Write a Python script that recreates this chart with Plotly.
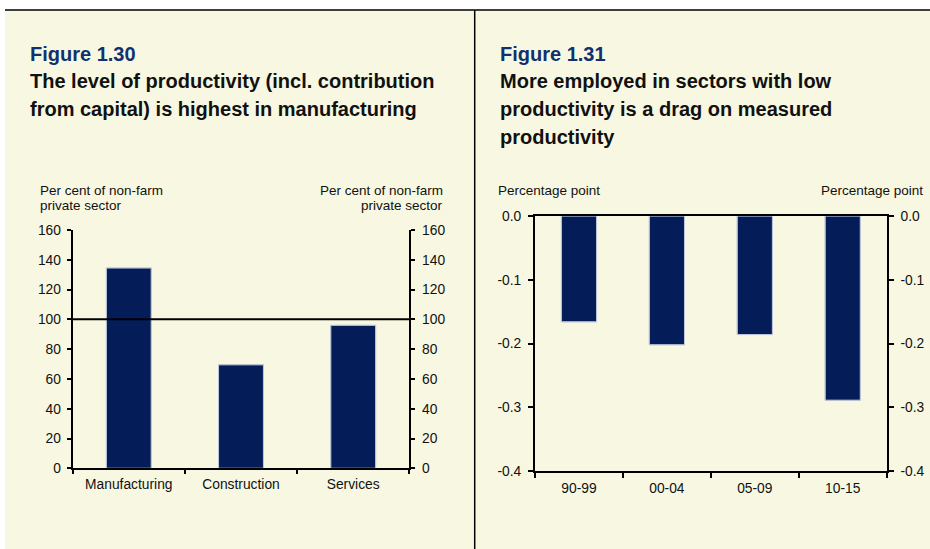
import plotly.graph_objects as go

W, H = 930, 549

# ---- data ----
sectors = ["Manufacturing", "Construction", "Services"]
productivity_level = [134.5, 69.5, 96.0]
reference_level = 100

periods = ["90-99", "00-04", "05-09", "10-15"]
drag_pp = [-0.166, -0.202, -0.186, -0.289]

left_ticks = [0, 20, 40, 60, 80, 100, 120, 140, 160]
right_ticks = [-0.4, -0.3, -0.2, -0.1, 0.0]
right_ticklabels = ["-0.4", "-0.3", "-0.2", "-0.1", "0.0"]

NAVY = "#041c58"
TITLE_NAVY = "#12306f"
CREAM = "#f8f8e2"
TXT = "#111111"
FONT = "Liberation Sans, Arial, sans-serif"


def px(x):
    return x / W


def py(y):
    return 1 - y / H


fig = go.Figure()

fig.add_trace(go.Bar(x=sectors, y=productivity_level, xaxis="x", yaxis="y",
                     marker=dict(color=NAVY, line=dict(color="#9aa2bd", width=1)),
                     width=0.4, showlegend=False, hoverinfo="x+y"))
fig.add_trace(go.Bar(x=sectors, y=productivity_level, xaxis="x", yaxis="y2",
                     marker=dict(color="rgba(0,0,0,0)"), width=0.4,
                     showlegend=False, hoverinfo="skip"))
fig.add_trace(go.Bar(x=periods, y=drag_pp, xaxis="x2", yaxis="y3",
                     marker=dict(color=NAVY, line=dict(color="#9aa2bd", width=1)),
                     width=0.4, showlegend=False, hoverinfo="x+y"))
fig.add_trace(go.Bar(x=periods, y=drag_pp, xaxis="x2", yaxis="y4",
                     marker=dict(color="rgba(0,0,0,0)"), width=0.4,
                     showlegend=False, hoverinfo="skip"))

tickfont = dict(family=FONT, size=13.8, color=TXT)

L_x0, L_x1, L_y0, L_y1 = 72.7, 409.3, 230, 468.3
R_x0, R_x1, R_y0, R_y1 = 535, 886.7, 216, 471

common_y = dict(showline=True, linecolor="black", linewidth=2, showgrid=False,
                zeroline=False, ticks="outside", tickcolor="black", tickwidth=1.5,
                tickfont=tickfont, fixedrange=True, automargin=False)
common_x = dict(type="category", showline=True, linecolor="black", linewidth=2,
                showgrid=False, ticks="outside", tickson="boundaries",
                tickcolor="black", tickwidth=1.5, tickfont=tickfont, zeroline=False,
                fixedrange=True, automargin=False)

fig.update_layout(
    width=W, height=H,
    margin=dict(l=0, r=0, t=0, b=0, pad=0),
    autosize=False,
    paper_bgcolor="white",
    plot_bgcolor="rgba(0,0,0,0)",
    bargap=0.6,
    font=dict(family=FONT, color=TXT),
    xaxis=dict(domain=[px(L_x0), px(L_x1)], anchor="y", ticklen=4,
               ticklabelstandoff=2, **common_x),
    yaxis=dict(domain=[py(L_y1), py(L_y0)], anchor="x", range=[0, 160],
               tickvals=left_ticks, ticklen=4, ticklabelstandoff=3, **common_y),
    yaxis2=dict(overlaying="y", side="right", anchor="x", range=[0, 160],
                tickvals=left_ticks, ticklen=4, ticklabelstandoff=4, **common_y),
    xaxis2=dict(domain=[px(R_x0), px(R_x1)], anchor="y3", mirror=True, ticklen=5,
                ticklabelstandoff=3, **common_x),
    yaxis3=dict(domain=[py(R_y1), py(R_y0)], anchor="x2", range=[-0.4, 0],
                tickvals=right_ticks, ticktext=right_ticklabels, ticklen=5,
                ticklabelstandoff=4, **common_y),
    yaxis4=dict(overlaying="y3", side="right", anchor="x2", range=[-0.4, 0],
                tickvals=right_ticks, ticktext=right_ticklabels, ticklen=5,
                ticklabelstandoff=4, **common_y),
)

shapes = [
    # cream panel background
    dict(type="rect", xref="paper", yref="paper", x0=px(5), x1=1, y0=0, y1=py(10),
         fillcolor=CREAM, line=dict(width=0), layer="below"),
    # top rule
    dict(type="line", xref="paper", yref="paper", x0=px(5), x1=1, y0=py(10), y1=py(10),
         line=dict(color="black", width=1.5), layer="above"),
    # vertical divider
    dict(type="line", xref="paper", yref="paper", x0=px(474.7), x1=px(474.7),
         y0=0, y1=py(10), line=dict(color="black", width=1.5), layer="above"),
    # reference line at 100
    dict(type="line", xref="x domain", yref="y", x0=0, x1=1,
         y0=reference_level, y1=reference_level,
         line=dict(color="black", width=2), layer="above"),
]
fig.update_layout(shapes=shapes)

ann = []


def text(x, y, s, size, color=TXT, bold=False, xanchor="left"):
    if bold:
        s = "<b>" + s + "</b>"
    ann.append(dict(xref="paper", yref="paper", x=px(x), y=py(y), text=s,
                    showarrow=False, xanchor=xanchor, yanchor="middle",
                    font=dict(family=FONT, size=size, color=color)))


# left panel titles
text(28, 54, "Figure 1.30", 20, TITLE_NAVY, True)
text(28, 81, "The level of productivity (incl. contribution", 20, "#111111", True)
text(28, 109, "from capital) is highest in manufacturing", 20, "#111111", True)
# right panel titles
text(497.7, 54, "Figure 1.31", 20, TITLE_NAVY, True)
text(497.7, 81, "More employed in sectors with low", 20, "#111111", True)
text(497.7, 109, "productivity is a drag on measured", 20, "#111111", True)
text(497.7, 137, "productivity", 20, "#111111", True)

# axis unit labels
text(37.7, 190.5, "Per cent of non-farm", 13.5)
text(37.7, 205.5, "private sector", 13.5)
text(445, 190.5, "Per cent of non-farm", 13.5, xanchor="right")
text(445, 205.5, "private sector", 13.5, xanchor="right")
text(495.7, 190.5, "Percentage point", 13.5)
text(925, 190.5, "Percentage point", 13.5, xanchor="right")

fig.update_layout(annotations=ann)

post = (
    "var h=document.documentElement,b=document.body;"
    "h.style.margin='0';h.style.padding='0';h.style.overflow='hidden';"
    "h.style.height='549px';"
    "b.style.margin='0';b.style.padding='0';b.style.overflow='hidden';"
    "b.style.height='549px';"
    "var d=document.getElementById('{plot_id}');"
    "d.style.position='fixed';d.style.left='0px';d.style.top='0px';"
    "d.style.margin='0';"
)

fig.write_html("out.html", post_script=post,
               config={"displayModeBar": False, "responsive": False})
